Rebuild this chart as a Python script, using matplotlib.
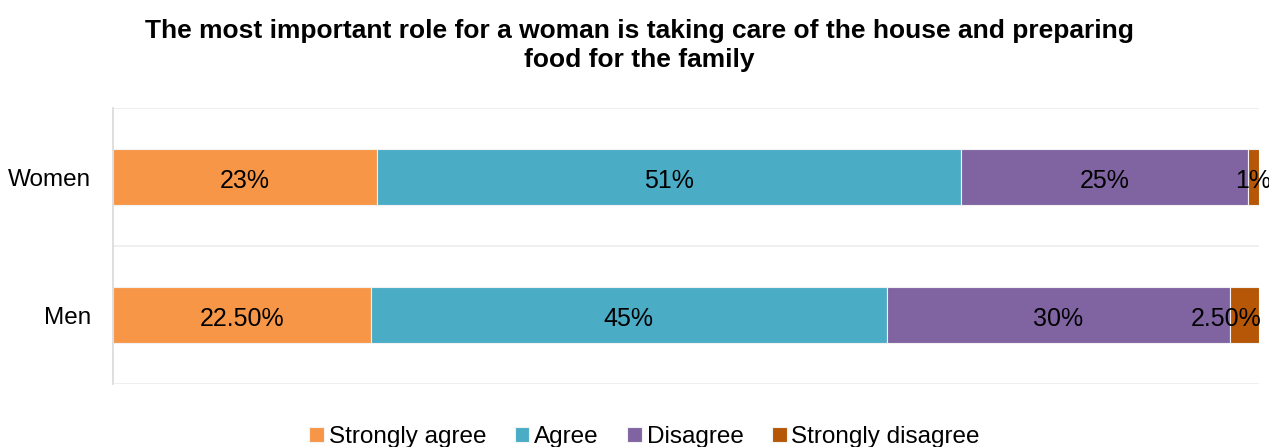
import matplotlib.pyplot as plt

plt.rcParams['font.family'] = ['Liberation Sans', 'DejaVu Sans']

# survey responses, share of respondents (%)
groups = ['Men', 'Women']
responses = ['Strongly agree', 'Agree', 'Disagree', 'Strongly disagree']
strongly_agree = [22.5, 23]
agree = [45, 51]
disagree = [30, 25]
strongly_disagree = [2.5, 1]
label_text = [['22.50%', '45%', '30%', '2.50%'],
              ['23%', '51%', '25%', '1%']]
colors = ['#F79646', '#4BACC6', '#8064A2', '#B65708']

fig = plt.figure(figsize=(12.69, 4.47), dpi=100)
ax = fig.add_axes([113 / 1269, 1 - 384 / 447, 1146 / 1269, 276 / 447])

series = [strongly_agree, agree, disagree, strongly_disagree]
left = [0, 0]
for i, vals in enumerate(series):
    bars = ax.barh(range(len(groups)), vals, left=left, height=0.41,
                   color=colors[i], edgecolor='#f2f2f2', linewidth=0.8,
                   label=responses[i])
    for j, b in enumerate(bars):
        cx = b.get_x() + b.get_width() / 2
        cy = b.get_y() + b.get_height() / 2
        txt = label_text[j][i]
        if len(txt) > 3 and cx > 95:
            # too wide for the last sliver, pull it back inside the figure
            ax.annotate(txt, (100, cy), xytext=(2, -1), textcoords='offset points',
                        ha='right', va='center_baseline', fontsize=18, color='black')
        else:
            ax.annotate(txt, (cx, cy), xytext=(0, -1), textcoords='offset points',
                        ha='center', va='center_baseline', fontsize=18, color='black')
    left = [l + v for l, v in zip(left, vals)]

ax.set_xlim(0, 100)
ax.set_ylim(-0.5, 1.5)
for y in [-0.5, 0.5, 1.5]:
    ax.axhline(y, color='#ececec', linewidth=1.2, zorder=0)
for s in ['top', 'right', 'bottom']:
    ax.spines[s].set_visible(False)
ax.spines['left'].set_color('#d9d9d9')
ax.spines['left'].set_linewidth(1.2)
ax.set_xticks([])
ax.set_yticks(range(len(groups)))
ax.set_yticklabels(groups, fontsize=17.5)
ax.tick_params(axis='y', length=0, pad=16)

fig.text(0.504, 0.899, 'The most important role for a woman is taking care of the house and preparing\nfood for the family',
         ha='center', va='center', fontsize=19, fontweight='bold', linespacing=1.25)

fig.legend(loc='center', bbox_to_anchor=(0.508, 0.022), ncol=4, frameon=False,
           fontsize=17.5, handlelength=0.6, handleheight=0.6, handletextpad=0.2,
           columnspacing=1.17)

fig.savefig('out.png', dpi=100)
